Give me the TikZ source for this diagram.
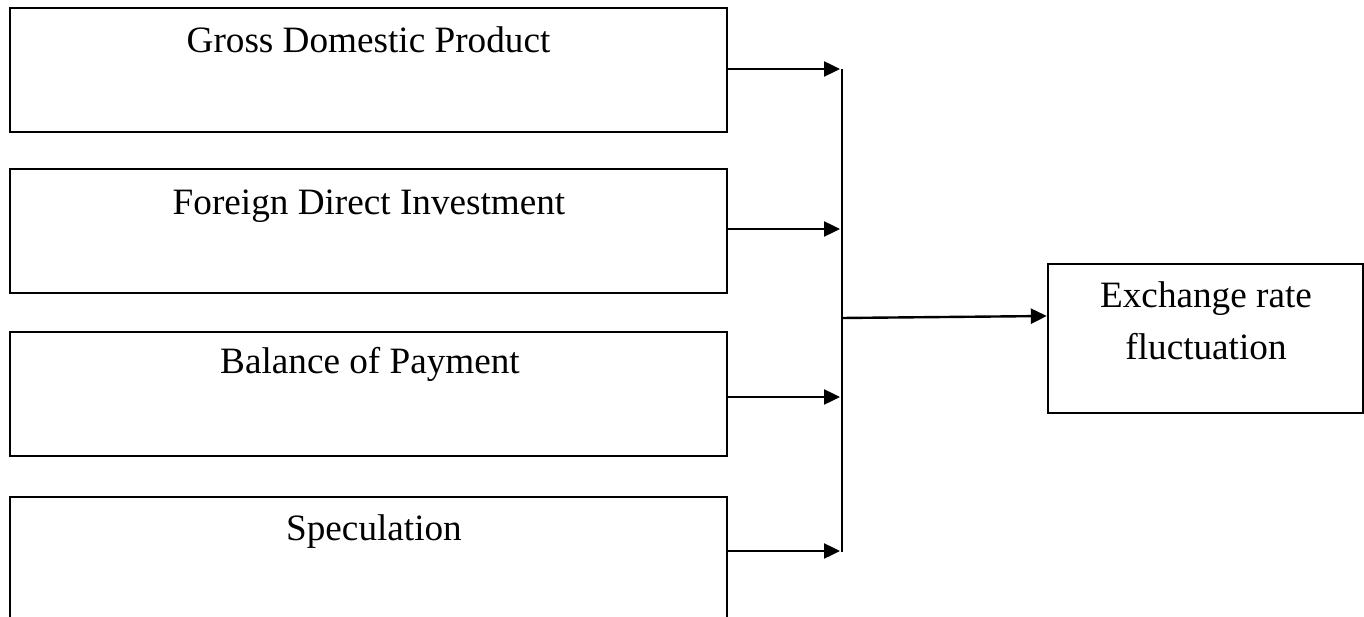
\documentclass[tikz,border=0pt]{standalone}
\usepackage{fontspec}
\setmainfont{Liberation Serif}
\usetikzlibrary{arrows.meta,calc}
\begin{document}
\begin{tikzpicture}[x=1pt,y=-1pt,
  box/.style={draw=black,line width=2.4pt,rectangle,inner sep=0pt},
  inbox/.style={box,minimum width=717pt,minimum height=124pt},
  lbl/.style={font=\fontsize{37.2}{50}\selectfont,anchor=base,inner sep=0pt},
  arr/.style={line width=2.4pt,-{Triangle[length=16pt,width=15pt]}},
  ln/.style={line width=2.4pt}]
\useasboundingbox (0,0) rectangle (1364,617);
% input boxes
\node[inbox] (b1) at (368.5,70) {};
\node[inbox] (b2) at (368.5,231) {};
\node[inbox] (b3) at (368.5,394) {};
\node[inbox] (b4) at (368.5,559) {};
\node[lbl] (t1) at (368.5,53) {Gross Domestic Product};
\node[lbl] (t2) at (369,215) {Foreign Direct Investment};
\node[lbl] (t3) at (370,373) {Balance of Payment};
\node[lbl] (t4) at (374,540) {Speculation};
% output box
\node[box,minimum width=315pt,minimum height=149pt] (out) at (1205.5,338.5) {};
\node[lbl] (o1) at (1206,308) {Exchange rate};
\node[lbl] (o2) at (1206,359) {fluctuation};
% junction line
\coordinate (jt) at (842,69);
\coordinate (jb) at (842,552);
\draw[ln] (jt) -- (jb);
\coordinate (j1) at (840,69);
\coordinate (j2) at (840,229);
\coordinate (j3) at (840,397);
\coordinate (j4) at (840,551);
\draw[arr] (b1.east |- j1) -- (j1);
\draw[arr] (b2.east |- j2) -- (j2);
\draw[arr] (b3.east |- j3) -- (j3);
\draw[arr] (b4.east |- j4) -- (j4);
% main arrow
\coordinate (m) at (842,318);
\coordinate (mo) at (1048,316);
\draw[arr] (m) -- (out.west |- mo);
\end{tikzpicture}
\end{document}
